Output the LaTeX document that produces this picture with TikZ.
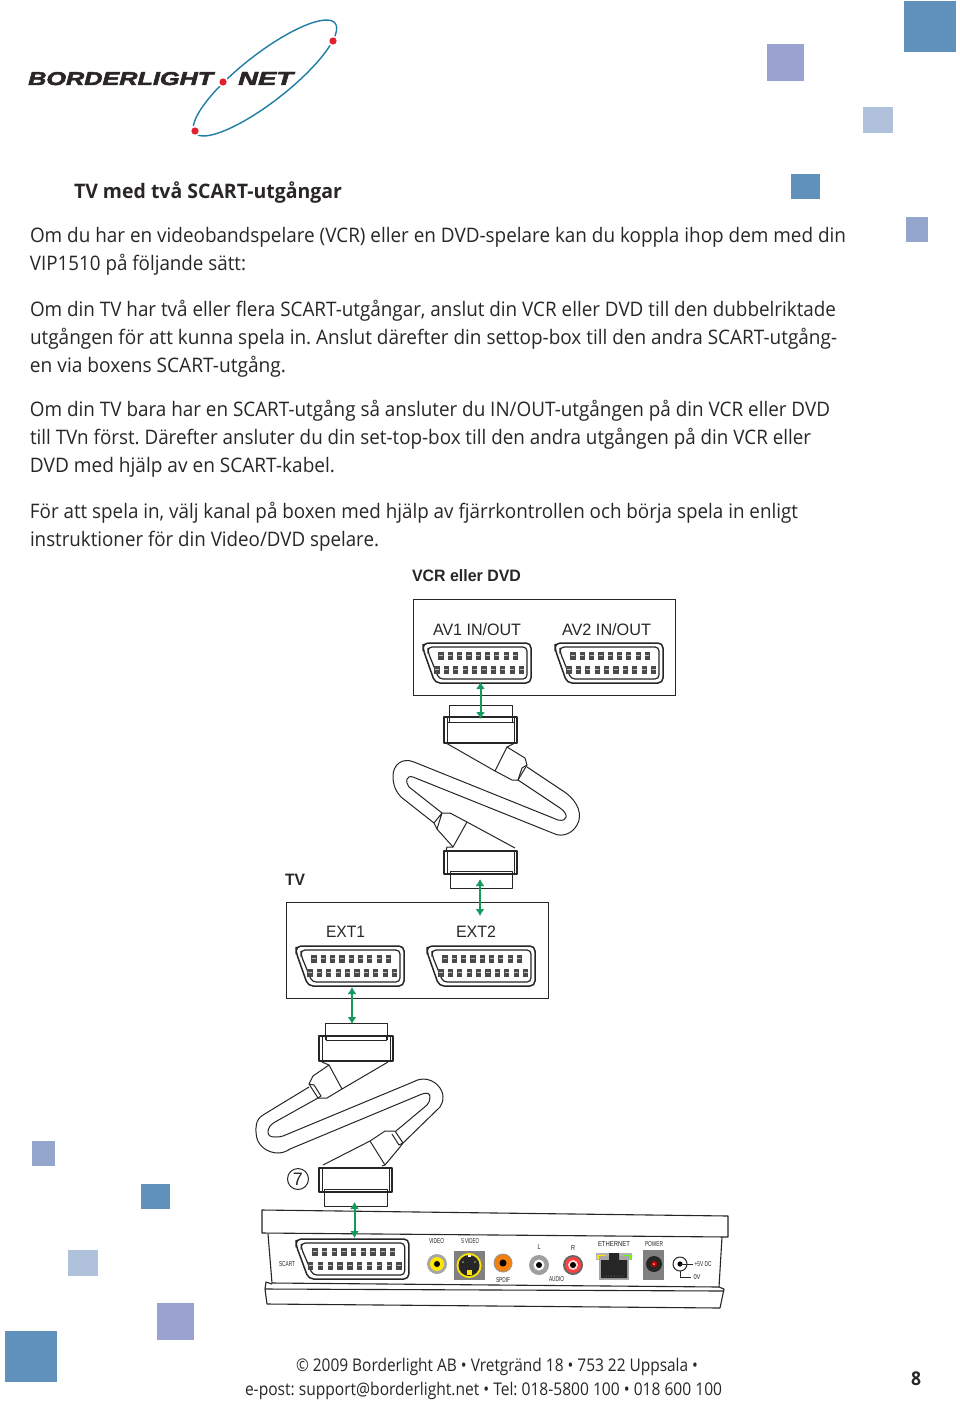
\documentclass[tikz,border=0pt]{standalone}
\usepackage{graphicx}
\usepackage{fontspec}
\setmainfont{Open Sans}
\newfontfamily\arialf{Liberation Sans}
\newfontfamily\logof[ItalicFont={Liberation Sans Bold Italic},ItalicFeatures={FakeBold=2.5}]{Liberation Sans}
\usetikzlibrary{arrows.meta}
\definecolor{sqa}{HTML}{6090BC}
\definecolor{sqb}{HTML}{9AA3CF}
\definecolor{sqc}{HTML}{B0C1DC}
\definecolor{sqd}{HTML}{95A6CC}
\definecolor{ink}{HTML}{2A2627}
\definecolor{linec}{HTML}{262626}
\definecolor{arrowc}{HTML}{16995F}
\definecolor{logoblue}{HTML}{1F7EA6}
\definecolor{logored}{HTML}{E2202F}
\definecolor{pinc}{HTML}{4A4A4A}
\frenchspacing
\newcommand{\fw}[2]{\resizebox{#1pt}{\height}{#2}}
\newcommand{\fwh}[3]{\resizebox{#1pt}{#2pt}{#3}}
\tikzset{
  x=1pt,y=-1pt,
  txt/.style={anchor=base west,inner sep=0pt,outer sep=0pt,text=ink,font=\fontsize{20}{24}\selectfont},
  ttl/.style={txt,font=\fontsize{20}{24}\selectfont\bfseries},
  foot/.style={txt,font=\fontsize{17.5}{21}\selectfont},
  lab/.style={anchor=base west,inner sep=0pt,outer sep=0pt,text=ink,font=\arialf\fontsize{16.5}{20}\selectfont},
  labb/.style={lab,font=\arialf\fontsize{16.5}{20}\selectfont\bfseries},
  tiny/.style={anchor=center,inner sep=0pt,outer sep=0pt,text=ink,font=\arialf\fontsize{6.5}{7}\selectfont},
  ln/.style={draw=linec,line width=1pt,line join=round},
  boxl/.style={draw=linec,line width=1pt},
  devl/.style={draw=linec,line width=1.1pt,line join=round},
  dblarrow/.style={draw=arrowc,line width=2pt,{Latex[length=7pt,width=9pt]}-{Latex[length=7pt,width=9pt]}},
  scart/.pic={
    \draw[linec,line width=1.5pt,rounded corners=5pt] (0,0) -- (108,0) -- (108,40) -- (12,40) -- (0,6) -- cycle;
    \draw[linec,line width=1.2pt,rounded corners=4pt] (5,4) -- (104,4) -- (104,36) -- (16,36) -- (5,9) -- cycle;
    \foreach \i in {0,...,8}{
      \fill[pinc] ({18+\i*9.3-2.6},8.5) rectangle ++(5.2,8);
      \draw[white!75!black,line width=.4pt] ({18+\i*9.3-2},12.5) -- ++(4,0);
    }
    \foreach \i in {0,...,9}{
      \fill[pinc] ({14+\i*9.4-2.6},22.5) rectangle ++(5.2,8);
      \draw[white!75!black,line width=.4pt] ({14+\i*9.4-2},26.5) -- ++(4,0);
    }
  }
}
\begin{document}
\begin{tikzpicture}
\useasboundingbox (0,0) rectangle (960,1402);
\fill[white] (0,0) rectangle (960,1402);
% squares
\fill[sqa] (904,1) rectangle (956,52);
\fill[sqb] (767,44) rectangle (804,81);
\fill[sqc] (863,107) rectangle (893,133);
\fill[sqa] (791,174) rectangle (820,199);
\fill[sqd] (906,217) rectangle (928,242);
\fill[sqd] (32,1141) rectangle (55,1166);
\fill[sqa] (141,1184) rectangle (170,1209);
\fill[sqc] (68,1250) rectangle (98,1276);
\fill[sqb] (157,1303) rectangle (194,1340);
\fill[sqa] (5,1331) rectangle (57,1382);
% logo
\draw[logoblue,line width=1.4pt,shift={(265,78)},rotate=38] (0,0) ellipse (89pt and 24pt);
\foreach \p in {(223,82),(333,41),(195,131)}{
  \fill[white] \p circle (5.5);
  \fill[logored] \p circle (3.6);
}
\node (logoa) [anchor=base west,inner sep=0pt,text=ink,font=\logof\itshape\fontsize{18}{20}\selectfont] at (28,85) {\fwh{185}{13}{BORDERLIGHT}};
\node (logob) [anchor=base west,inner sep=0pt,text=ink,font=\logof\itshape\fontsize{18}{20}\selectfont] at (238,85) {\fwh{55}{13}{NET}};
% text
\node (title) [ttl] at (74,198) {\fw{268}{TV med två SCART-utgångar}};
\node (l1) [txt] at (30,242) {\fw{816}{Om du har en videobandspelare (VCR) eller en DVD-spelare kan du koppla ihop dem med din}};
\node (l2) [txt] at (30,270) {\fw{216}{VIP1510 på följande sätt:}};
\node (l3) [txt] at (30,316) {\fw{806}{Om din TV har två eller flera SCART-utgångar, anslut din VCR eller DVD till den dubbelriktade}};
\node (l4) [txt] at (30,344) {\fw{807}{utgången för att kunna spela in. Anslut därefter din settop-box till den andra SCART-utgång-}};
\node (l5) [txt] at (30,372) {\fw{256}{en via boxens SCART-utgång.}};
\node (l6) [txt] at (30,416) {\fw{800}{Om din TV bara har en SCART-utgång så ansluter du IN/OUT-utgången på din VCR eller DVD}};
\node (l7) [txt] at (30,444) {\fw{781}{till TVn först. Därefter ansluter du din set-top-box till den andra utgången på din VCR eller}};
\node (l8) [txt] at (30,472) {\fw{305}{DVD med hjälp av en SCART-kabel.}};
\node (l9) [txt] at (30,518) {\fw{768}{För att spela in, välj kanal på boxen med hjälp av fjärrkontrollen och börja spela in enligt}};
\node (l10) [txt] at (30,546) {\fw{349}{instruktioner för din Video/DVD spelare.}};
\node (f1) [foot] at (296,1371) {\fw{402}{© 2009 Borderlight AB • Vretgränd 18 • 753 22 Uppsala •}};
\node (f2) [foot] at (245,1395) {\fw{477}{e-post: support@borderlight.net • Tel: 018-5800 100 • 018 600 100}};
\node (pg) [foot,font=\fontsize{19}{21}\selectfont\bfseries] at (911,1385) {\fw{10}{8}};
% VCR box
\node (vcrlab) [labb] at (412,581) {\fw{109}{VCR eller DVD}};
\draw[boxl] (413,599) rectangle (675,695);
\node (av1) [lab] at (433,635) {\fw{88}{AV1 IN/OUT}};
\node (av2) [lab] at (562,635) {\fw{89}{AV2 IN/OUT}};
\pic (pav1) at (423,643) {scart};
\pic (pav2) at (555,643) {scart};
% cable 1
\draw[ln] (449,722) -- (449,705) -- (512,705) -- (512,722);
\draw[ln] (447,717) rectangle (514,722);
\draw[ln,line width=1.3pt] (444,717) rectangle (517,743);
\draw[ln] (447,717) -- (447,743) (514,717) -- (514,743);
\draw[ln] (446,743) -- (495,771) -- (507,747) -- (515,743);
\draw[ln] (495,771) -- (512,780) -- (518,780) -- (527,765) -- (525,758) -- (507,747);
\draw[ln] (518,780) -- (522,768) -- (527,765);
\draw[ln] (527,767) -- (566,793) .. controls (578,802) and (583,815) .. (577,825) .. controls (572,834) and (562,837) .. (555,834) -- (413,777) .. controls (406,775) and (405,782) .. (409,787) -- (442,813);
\draw[ln] (518,780) -- (560,808) .. controls (569,814) and (568,822) .. (558,820) -- (414,762) .. controls (402,757) and (393,765) .. (393,776) .. controls (393,785) and (396,792) .. (401,797) -- (434,823);
\draw[ln] (442,813) -- (450,813) -- (467,822) -- (515,848);
\draw[ln] (434,823) -- (442,813) (434,823) -- (437,829) -- (442,813);
\draw[ln] (437,829) -- (453,847) -- (467,822);
\draw[ln] (453,847) -- (447,847) -- (446,851);
\draw[ln,line width=1.3pt] (444,851) rectangle (517,874);
\draw[ln] (447,851) -- (447,874) (514,851) -- (514,874);
\draw[ln] (450,871) rectangle (512,888);
\draw[ln] (450,874) -- (512,874);
% TV box
\node (tvlab) [labb] at (285,885) {\fw{20}{TV}};
\draw[boxl] (286,902) rectangle (548,998);
\node (ext1) [lab] at (326,937) {\fw{39}{EXT1}};
\node (ext2) [lab] at (456,937) {\fw{40}{EXT2}};
\pic (pext1) at (296,946) {scart};
\pic (pext2) at (427,946) {scart};
% cable 2
\draw[ln] (325,1040) -- (325,1023) -- (387,1023) -- (387,1040);
\draw[ln] (326,1036) rectangle (386,1040);
\draw[ln,line width=1.3pt] (319,1036) rectangle (393,1061);
\draw[ln] (322,1036) -- (322,1061) (390,1036) -- (390,1061);
\draw[ln] (322,1062) -- (329,1065) -- (342,1089) -- (388,1062);
\draw[ln] (329,1065) -- (313,1076) -- (309,1084) -- (318,1098) -- (327,1098) -- (342,1089);
\draw[ln] (309,1084) -- (314,1085) -- (321,1096) -- (318,1098);
\draw[ln] (309,1087) -- (263,1115) .. controls (255,1120) and (256,1128) .. (256,1132) .. controls (256,1146) and (268,1153) .. (278,1153) .. controls (283,1153) and (287,1151) .. (290,1149) -- (422,1094) .. controls (428,1092) and (430,1094) .. (430,1097) .. controls (430,1100) and (429,1103) .. (427,1105) -- (396,1131);
\draw[ln] (318,1098) -- (275,1122) .. controls (270,1125) and (268,1128) .. (268,1132) .. controls (268,1136) and (271,1137) .. (275,1137) .. controls (278,1137) and (280,1137) .. (283,1136) -- (413,1082) .. controls (417,1080) and (420,1079) .. (423,1079) .. controls (435,1079) and (443,1089) .. (443,1097) .. controls (443,1101) and (442,1104) .. (440,1107) -- (403,1143);
\draw[ln] (370,1141) -- (385,1131) -- (395,1131) -- (403,1143) -- (400,1147) -- (385,1165) -- (382,1166);
\draw[ln] (392,1134) -- (399,1145) -- (403,1143);
\draw[ln] (370,1141) -- (385,1165);
\draw[ln] (370,1141) -- (323,1165);
\draw[ln,line width=1.3pt] (319,1168) rectangle (392,1192);
\draw[ln] (322,1168) -- (322,1192) (389,1168) -- (389,1192);
\draw[ln] (324,1189) rectangle (387,1206);
\draw[ln] (324,1192) -- (387,1192);
\node (seven) [draw=linec,line width=1pt,circle,minimum size=21pt,inner sep=0pt,text=ink,font=\arialf\fontsize{18}{20}\selectfont] at (298,1179) {7};
% device
\draw[devl] (262,1210) -- (728,1216) -- (728,1237) -- (262,1233) -- cycle;
\draw[devl] (268,1234) -- (272,1283) -- (719,1287) -- (722,1237);
\draw[devl] (272,1284) -- (266,1282) -- (265,1289) -- (267,1304) -- (720,1308) -- (724,1289) -- (719,1287);
\draw[devl] (265,1289) -- (724,1291);
\pic (pscart) [xscale=1.045] at (296,1239) {scart};
\node (tscart) [tiny] at (287,1264) {\fwh{16}{5}{SCART}};
\node (tvideo) [tiny] at (436.5,1241) {\fwh{15}{5}{VIDEO}};
\fill[gray!70] (437,1264) circle (10);
\fill[yellow!90!orange] (437,1264) circle (7);
\fill[black] (437,1264) circle (3);
\node (tsvideo) [tiny] at (470,1241) {\fwh{18}{5}{S VIDEO}};
\fill[gray] (454,1251) rectangle (485,1280);
\fill[yellow!85!orange] (469,1265.5) circle (12.5);
\fill[black!85] (469,1265.5) circle (10.5);
\fill[yellow!90!orange] (466.5,1270) rectangle (471.5,1275);
\fill[white] (467.5,1255) rectangle (470.5,1257);
\fill[gray] (463,1262) circle (1.2) (475,1262) circle (1.2);
\fill[gray!80] (503,1263) circle (9.5);
\fill[orange!80!brown] (503,1263) circle (8.5);
\fill[black] (503,1263) circle (3.5);
\node (tspdif) [tiny] at (503,1280) {\fwh{14}{5}{SPDIF}};
\fill[gray!75] (539,1265) circle (10);
\fill[white] (539,1265) circle (5.5);
\fill[black] (539,1265) circle (3);
\node (tl) [tiny] at (539,1247) {\fwh{3}{5}{L}};
\fill[black!60] (573,1265) circle (10);
\fill[red!75!white] (573,1265) circle (8);
\fill[white!85!red] (573,1265) circle (5);
\fill[black] (573,1265) circle (3);
\node (tr) [tiny] at (573,1248) {\fwh{4}{5}{R}};
\node (taudio) [tiny] at (556.5,1279) {\fwh{15}{5}{AUDIO}};
\node (teth) [tiny] at (614,1244) {\fwh{32}{5}{ETHERNET}};
\fill[gray!60] (596,1253) rectangle (632,1260);
\fill[yellow!90!orange] (597,1255) rectangle (605,1258.5);
\fill[green!60!yellow] (623,1255) rectangle (631,1258.5);
\fill[gray!70] (599,1256) rectangle (629,1280);
\fill[black!85] (601,1260) -- (609,1260) -- (609,1253) -- (619,1253) -- (619,1260) -- (627,1260) -- (627,1278) -- (601,1278) -- cycle;
\foreach \i in {0,...,6}{\fill[gray!70] ({606+\i*2.8},1276) circle (.4);}
\node (tpow) [tiny] at (654,1244) {\fwh{18}{5}{POWER}};
\fill[gray] (643,1250) rectangle (664,1280);
\fill[black!85] (654,1264) circle (8);
\fill[red!75!black] (654,1264) circle (3.2);
\fill[white!70!red] (654,1264) circle (1);
\draw[line width=1pt,draw=linec] (680,1264) circle (7);
\fill[black] (680,1264) circle (2.6);
\draw[line width=.8pt,draw=linec] (680,1264) -- (693,1264);
\draw[line width=.8pt,draw=linec] (680,1271) -- (680,1277) -- (691,1277);
\node (tfive) [tiny] at (703,1264) {\fwh{17}{5}{+5V DC}};
\node (tzero) [tiny] at (697,1277) {\fwh{7}{5}{0V}};
% arrows
\coordinate (a1t) at (480.5,682);
\coordinate (a1b) at (480.5,719);
\coordinate (a2t) at (480,879);
\coordinate (a2b) at (480,916);
\coordinate (a3t) at (352,987);
\coordinate (a3b) at (352,1024);
\coordinate (a4t) at (354.5,1202);
\coordinate (a4b) at (354.5,1238);
\draw[dblarrow] (a1t) -- (a1b);
\draw[dblarrow] (a2t) -- (a2b);
\draw[dblarrow] (a3t) -- (a3b);
\draw[dblarrow] (a4t) -- (a4b);
\end{tikzpicture}
\end{document}
